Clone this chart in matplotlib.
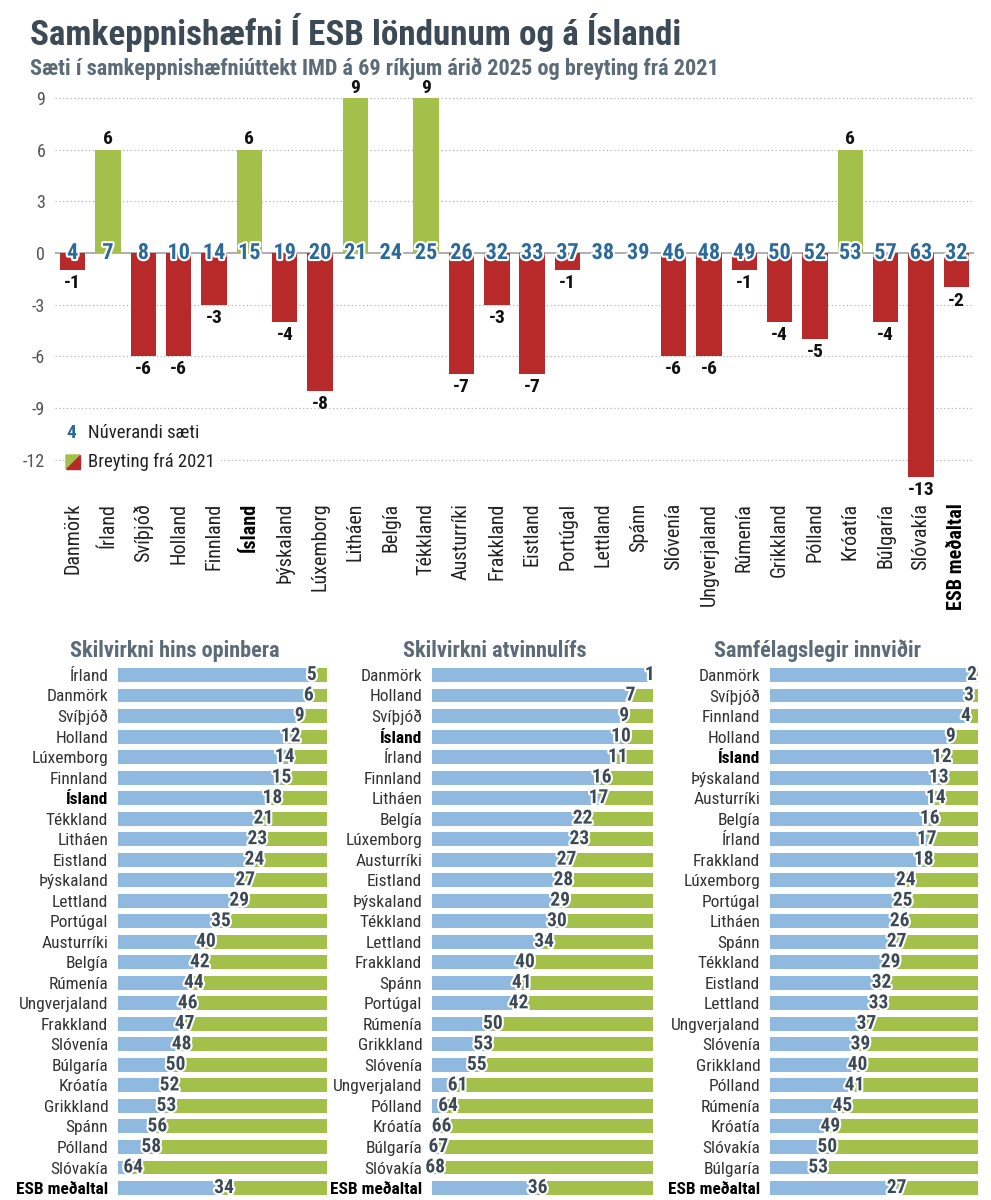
import matplotlib
matplotlib.use("Agg")
import matplotlib.pyplot as plt
import matplotlib.patheffects as pe
from matplotlib.patches import Polygon
from matplotlib import font_manager as fm

# pick a narrow font if one is around
found = {(f.name, f.stretch) for f in fm.fontManager.ttflist}
fam_names = {n for n, s in found}
font = None
stretch = 'normal'
for cand in ['Roboto Condensed', 'Liberation Sans Narrow', 'Open Sans Condensed',
             'DejaVu Sans Condensed', 'Noto Sans Condensed']:
    if cand in fam_names:
        font = cand
        break
if font is None:
    for n, s in found:
        if n in ('Roboto', 'Noto Sans', 'Open Sans', 'DejaVu Sans') and str(s) in ('condensed', 'semi-condensed', '75', '87.5'):
            font = n
            stretch = 'condensed'
            break
if font is None:
    font = 'Roboto' if 'Roboto' in fam_names else 'Liberation Sans'
plt.rcParams['font.family'] = [font, 'DejaVu Sans']
plt.rcParams['font.stretch'] = stretch

# top chart data
countries = ['Danmörk', 'Írland', 'Svíþjóð', 'Holland', 'Finnland', 'Ísland', 'Þýskaland',
             'Lúxemborg', 'Litháen', 'Belgía', 'Tékkland', 'Austurríki', 'Frakkland',
             'Eistland', 'Portúgal', 'Lettland', 'Spánn', 'Slóvenía', 'Ungverjaland',
             'Rúmenía', 'Grikkland', 'Pólland', 'Króatía', 'Búlgaría', 'Slóvakía',
             'ESB meðaltal']
rank_2025 = [4, 7, 8, 10, 14, 15, 19, 20, 21, 24, 25, 26, 32, 33, 37, 38, 39, 46, 48,
             49, 50, 52, 53, 57, 63, 32]
change = [-1, 6, -6, -6, -3, 6, -4, -8, 9, 0, 9, -7, -3, -7, -1, 0, 0, -6, -6,
          -1, -4, -5, 6, -4, -13, -2]
yticks = [-12, -9, -6, -3, 0, 3, 6, 9]

# bottom panels
p1_title = 'Skilvirkni hins opinbera'
p1_names = ['Írland', 'Danmörk', 'Svíþjóð', 'Holland', 'Lúxemborg', 'Finnland', 'Ísland',
            'Tékkland', 'Litháen', 'Eistland', 'Þýskaland', 'Lettland', 'Portúgal',
            'Austurríki', 'Belgía', 'Rúmenía', 'Ungverjaland', 'Frakkland', 'Slóvenía',
            'Búlgaría', 'Króatía', 'Grikkland', 'Spánn', 'Pólland', 'Slóvakía', 'ESB meðaltal']
p1_rank = [5, 6, 9, 12, 14, 15, 18, 21, 23, 24, 27, 29, 35, 40, 42, 44, 46, 47, 48,
           50, 52, 53, 56, 58, 64, 34]

p2_title = 'Skilvirkni atvinnulífs'
p2_names = ['Danmörk', 'Holland', 'Svíþjóð', 'Ísland', 'Írland', 'Finnland', 'Litháen',
            'Belgía', 'Lúxemborg', 'Austurríki', 'Eistland', 'Þýskaland', 'Tékkland',
            'Lettland', 'Frakkland', 'Spánn', 'Portúgal', 'Rúmenía', 'Grikkland',
            'Slóvenía', 'Ungverjaland', 'Pólland', 'Króatía', 'Búlgaría', 'Slóvakía',
            'ESB meðaltal']
p2_rank = [1, 7, 9, 10, 11, 16, 17, 22, 23, 27, 28, 29, 30, 34, 40, 41, 42, 50, 53,
           55, 61, 64, 66, 67, 68, 36]

p3_title = 'Samfélagslegir innviðir'
p3_names = ['Danmörk', 'Svíþjóð', 'Finnland', 'Holland', 'Ísland', 'Þýskaland', 'Austurríki',
            'Belgía', 'Írland', 'Frakkland', 'Lúxemborg', 'Portúgal', 'Litháen', 'Spánn',
            'Tékkland', 'Eistland', 'Lettland', 'Ungverjaland', 'Slóvenía', 'Grikkland',
            'Pólland', 'Rúmenía', 'Króatía', 'Slóvakía', 'Búlgaría', 'ESB meðaltal']
p3_rank = [2, 3, 4, 9, 12, 13, 14, 16, 17, 18, 24, 25, 26, 27, 29, 32, 33, 37, 39, 40,
           41, 45, 49, 50, 53, 27]

n_total = 69

GREEN = '#a3c14a'
RED = '#b82a2a'
BLUE_TXT = '#2b6a99'
BLUE_BAR = '#90b9e0'
SLATE = '#3b4a55'
SUB = '#5b6b77'
W, H = 991, 1200

fig = plt.figure(figsize=(W / 100, H / 100), dpi=100)
white = [pe.withStroke(linewidth=3, foreground='white')]


def fx(px):
    return px / W


def fy(py):
    return 1 - py / H


def fit(t, width_px):
    # shrink a text until it is as wide as in the reference
    r = fig.canvas.get_renderer()
    w = t.get_window_extent(r).width
    t.set_fontsize(t.get_fontsize() * width_px / w)


t1 = fig.text(fx(30), fy(32), 'Samkeppnishæfni Í ESB löndunum og á Íslandi', fontsize=26,
              fontweight='bold', color=SLATE, va='center', ha='left')
t2 = fig.text(fx(30), fy(69), 'Sæti í samkeppnishæfniúttekt IMD á 69 ríkjum árið 2025 og breyting frá 2021',
              fontsize=15.5, fontweight='bold', color=SUB, va='center', ha='left')
fit(t1, 653)
fit(t2, 692)

# ---- top chart
ax = fig.add_axes([fx(55), fy(482), fx(919), (482 - 94.6) / H])
x = list(range(len(countries)))
cols = [GREEN if c > 0 else RED for c in change]
ax.bar(x, change, width=0.72, color=cols, zorder=2)
ax.set_xlim(-0.5, len(countries) - 0.5)
ax.set_ylim(-13.3, 9.2)
for t in yticks:
    if t == 0:
        ax.axhline(0, color='#9a9a9a', lw=1.1, zorder=1)
    else:
        ax.axhline(t, color='#b5b5b5', lw=0.9, ls=(0, (1, 2)), zorder=1)
ax.set_yticks(yticks)
ax.set_yticklabels([str(t) for t in yticks], fontsize=13, color='#555555')
ax.set_xticks(x)
ax.set_xticklabels(countries, rotation=90, fontsize=14.5, color='#222222')
for lab in ax.get_xticklabels():
    if lab.get_text() in ('Ísland', 'ESB meðaltal'):
        lab.set_fontweight('bold')
        lab.set_color('black')
ax.tick_params(axis='x', length=0, pad=15)
ax.tick_params(axis='y', length=0, pad=7)
for s in ax.spines.values():
    s.set_visible(False)

for i, (r, c) in enumerate(zip(rank_2025, change)):
    ax.text(i, 0, str(r), ha='center', va='center', fontsize=16, fontweight='bold',
            color=BLUE_TXT, path_effects=white, zorder=4)
    if c > 0:
        ax.annotate(str(c), (i, c), xytext=(0, 1), textcoords='offset points',
                    ha='center', va='bottom', fontsize=14, fontweight='bold', color='#111111')
    elif c < 0:
        ax.annotate(str(c), (i, c), xytext=(0, -3), textcoords='offset points',
                    ha='center', va='top', fontsize=14, fontweight='bold', color='#111111')

# legend
fig.text(fx(71), fy(433), '4', fontsize=14, fontweight='bold', color=BLUE_TXT,
         ha='center', va='center')
fig.text(fx(88), fy(433), 'Núverandi sæti', fontsize=13.5, color='#222222', ha='left', va='center')
fig.text(fx(88), fy(462), 'Breyting frá 2021', fontsize=13.5, color='#222222', ha='left', va='center',
         bbox=dict(facecolor='white', edgecolor='none', pad=4))
sq = [(fx(66), fy(455)), (fx(80), fy(455)), (fx(80), fy(469)), (fx(66), fy(469))]
fig.add_artist(Polygon([sq[0], sq[1], sq[3]], closed=True, color=GREEN, transform=fig.transFigure))
fig.add_artist(Polygon([sq[1], sq[2], sq[3]], closed=True, color=RED, transform=fig.transFigure))

# ---- bottom panels
panels = [(p1_title, p1_names, p1_rank, 118, 327, 175),
          (p2_title, p2_names, p2_rank, 432, 653, 495),
          (p3_title, p3_names, p3_rank, 770, 978, 818)]
for title, names, ranks, x0, x1, tx in panels:
    pa = fig.add_axes([fx(x0), fy(1198.3), fx(x1 - x0), (1198.3 - 664.7) / H])
    rows = list(range(len(names)))
    blue = [n_total - r for r in ranks]
    pa.barh(rows, blue, height=0.68, color=BLUE_BAR)
    pa.barh(rows, ranks, left=blue, height=0.68, color=GREEN)
    for i, (b, r) in enumerate(zip(blue, ranks)):
        pa.text(b, i, str(r), ha='center', va='center', fontsize=14, fontweight='bold',
                color=SLATE, path_effects=white)
    pa.set_xlim(0, n_total)
    pa.set_ylim(len(names) - 0.5, -0.5)
    pa.set_xticks([])
    pa.set_yticks(rows)
    pa.set_yticklabels(names, fontsize=12.5, color='#333333')
    for lab in pa.get_yticklabels():
        if lab.get_text() in ('Ísland', 'ESB meðaltal'):
            lab.set_fontweight('bold')
            lab.set_color('black')
    pa.tick_params(length=0, pad=7)
    for s in pa.spines.values():
        s.set_visible(False)
    ht = fig.text(fx(tx), fy(651), title, fontsize=16, fontweight='bold', color=SUB,
                  ha='center', va='center')

fig.savefig('out.png', dpi=100, facecolor='white')
